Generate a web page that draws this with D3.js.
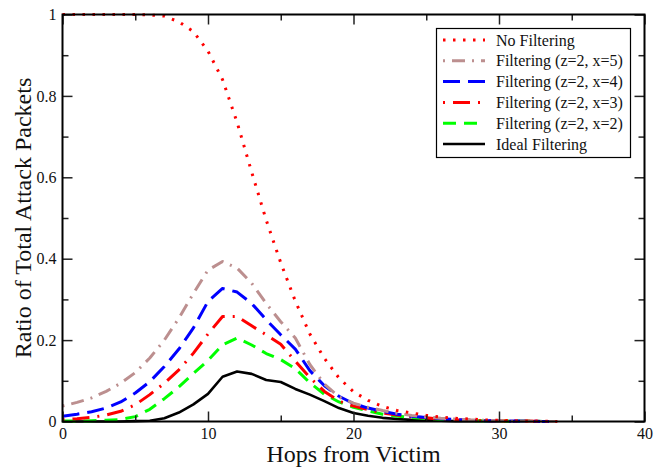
<!DOCTYPE html>
<html>
<head>
<meta charset="utf-8">
<script src="https://cdn.jsdelivr.net/npm/d3@7"></script>
<style>
  html, body { margin: 0; padding: 0; background: #fff; }
  svg { display: block; font-family: "Liberation Serif", "Times New Roman", serif; }
</style>
</head>
<body>
<svg id="chart" width="666" height="469"></svg>
<script>
// ---- data ----
const hops = d3.range(0, 35);
const noFiltering = [1,1,1,1,1,1,0.999,0.996,0.982,0.958,0.91,0.84,0.735,0.613,0.495,0.39,0.296,0.215,0.155,0.107,0.073,0.052,0.037,0.027,0.021,0.015,0.011,0.008,0.006,0.004,0.003,0.002,0.001,0.001,0];
const filterX5 = [0.038,0.047,0.058,0.074,0.094,0.12,0.156,0.2,0.254,0.315,0.372,0.393,0.377,0.34,0.29,0.245,0.205,0.14,0.092,0.06,0.045,0.035,0.027,0.02,0.015,0.011,0.008,0.006,0.004,0.003,0.002,0.001,0.001,0,0];
const filterX4 = [0.013,0.018,0.024,0.033,0.048,0.07,0.098,0.135,0.178,0.23,0.295,0.327,0.318,0.29,0.25,0.213,0.178,0.125,0.088,0.062,0.044,0.033,0.025,0.018,0.013,0.01,0.007,0.005,0.003,0.002,0.002,0.001,0.001,0,0];
const filterX3 = [0.005,0.007,0.01,0.016,0.025,0.041,0.066,0.094,0.127,0.168,0.215,0.258,0.258,0.235,0.213,0.19,0.148,0.108,0.074,0.05,0.038,0.029,0.021,0.016,0.012,0.009,0.006,0.004,0.003,0.002,0.002,0.001,0.001,0,0];
const filterX2 = [0.001,0.001,0.002,0.003,0.005,0.012,0.03,0.056,0.085,0.118,0.15,0.188,0.205,0.188,0.167,0.152,0.13,0.095,0.067,0.048,0.035,0.026,0.018,0.013,0.01,0.007,0.005,0.003,0.002,0.002,0.001,0.001,0.001,0,0];
const idealFiltering = [0,0,0,0,0,0.001,0.002,0.008,0.022,0.042,0.068,0.11,0.123,0.117,0.102,0.097,0.08,0.066,0.05,0.033,0.021,0.014,0.009,0.006,0.004,0.003,0.002,0.001,0.001,0.001,0,0,0,0,0];

const seriesNames = ["No Filtering","Filtering (z=2, x=5)","Filtering (z=2, x=4)","Filtering (z=2, x=3)","Filtering (z=2, x=2)","Ideal Filtering"];
const seriesValues = [noFiltering, filterX5, filterX4, filterX3, filterX2, idealFiltering];
const seriesColors = ["#ff0000","#bc8f8f","#0000ff","#ff0000","#00ff00","#000000"];
const seriesDash = ["2.5,7.5","2,7,13,7","17,8","2,8,17,8","13,8",null];

const xMajorTicks = [0,10,20,30,40];
const xMinorTicks = [5,15,25,35];
const yMajorTicks = [0,0.2,0.4,0.6,0.8,1];
const yMinorTicks = [0.1,0.3,0.5,0.7,0.9];
const xTitle = "Hops from Victim";
const yTitle = "Ratio of Total Attack Packets";

// ---- layout ----
const svg = d3.select("#chart");
const L = 62.5, T = 14.5, W = 582, H = 407;
const x = d3.scaleLinear().domain([0, 40]).range([L, L + W]);
const y = d3.scaleLinear().domain([0, 1]).range([T + H, T]);

const g = svg.append("g");

// series
const line = d3.line().x((d, i) => x(hops[i])).y(d => y(d));
const order = [5,4,3,2,1,0];
order.forEach(k => {
  g.append("path")
    .datum(seriesValues[k])
    .attr("d", line)
    .attr("fill", "none")
    .attr("stroke", seriesColors[k])
    .attr("stroke-width", k === 5 ? 2.6 : 3)
    .attr("stroke-dasharray", seriesDash[k])
    .attr("stroke-linejoin", "round");
});

// axes (ticks inward)
const major = 10, minor = 6;
const axB = d3.axisBottom(x).tickValues(xMajorTicks).tickSize(-major).tickFormat(d3.format("d")).tickPadding(6);
const axBm = d3.axisBottom(x).tickValues(xMinorTicks).tickSize(-minor).tickFormat("");
const axT = d3.axisTop(x).tickValues(xMajorTicks).tickSize(-major).tickFormat("");
const axTm = d3.axisTop(x).tickValues(xMinorTicks).tickSize(-minor).tickFormat("");
const axL = d3.axisLeft(y).tickValues(yMajorTicks).tickSize(-major).tickFormat(d => d === 0 ? "0" : d === 1 ? "1" : d3.format(".1f")(d)).tickPadding(6);
const axLm = d3.axisLeft(y).tickValues(yMinorTicks).tickSize(-minor).tickFormat("");
const axR = d3.axisRight(y).tickValues(yMajorTicks).tickSize(-major).tickFormat("");
const axRm = d3.axisRight(y).tickValues(yMinorTicks).tickSize(-minor).tickFormat("");

function styleAxis(sel) {
  sel.select(".domain").remove();
  sel.selectAll(".tick line").attr("stroke", "#222").attr("stroke-width", 1.5);
  sel.selectAll(".tick text").attr("font-family", "Liberation Serif, serif").attr("font-size", 16).attr("fill", "#111");
}
[[axB, `translate(0,${T+H})`],[axBm, `translate(0,${T+H})`],[axT, `translate(0,${T})`],[axTm, `translate(0,${T})`],
 [axL, `translate(${L},0)`],[axLm, `translate(${L},0)`],[axR, `translate(${L+W},0)`],[axRm, `translate(${L+W},0)`]]
 .forEach(([ax, tr]) => {
   const s = g.append("g").attr("transform", tr).call(ax);
   styleAxis(s);
 });

// frame
g.append("rect").attr("x", L).attr("y", T).attr("width", W).attr("height", H)
  .attr("fill", "none").attr("stroke", "#000").attr("stroke-width", 2);

// axis titles
svg.append("text").attr("x", L + W / 2).attr("y", 462).attr("text-anchor", "middle")
  .attr("font-size", 24).attr("fill", "#111").text(xTitle);
svg.append("text").attr("transform", `translate(31,${T + H / 2}) rotate(-90)`).attr("text-anchor", "middle")
  .attr("font-size", 24).attr("fill", "#111").text(yTitle);

// legend
const lg = svg.append("g");
lg.append("rect").attr("x", 436.5).attr("y", 28.5).attr("width", 194).attr("height", 129)
  .attr("fill", "#fff").attr("stroke", "#000").attr("stroke-width", 1.2);
seriesNames.forEach((name, i) => {
  const cy = 40 + i * 20.8;
  lg.append("line").attr("x1", 443).attr("x2", 485).attr("y1", cy).attr("y2", cy)
    .attr("stroke", seriesColors[i]).attr("stroke-width", i === 5 ? 2.6 : 3)
    .attr("stroke-dasharray", seriesDash[i]);
  lg.append("text").attr("x", 496).attr("y", cy + 5.5).attr("font-size", 16).attr("fill", "#111").text(name);
});
</script>
</body>
</html>
